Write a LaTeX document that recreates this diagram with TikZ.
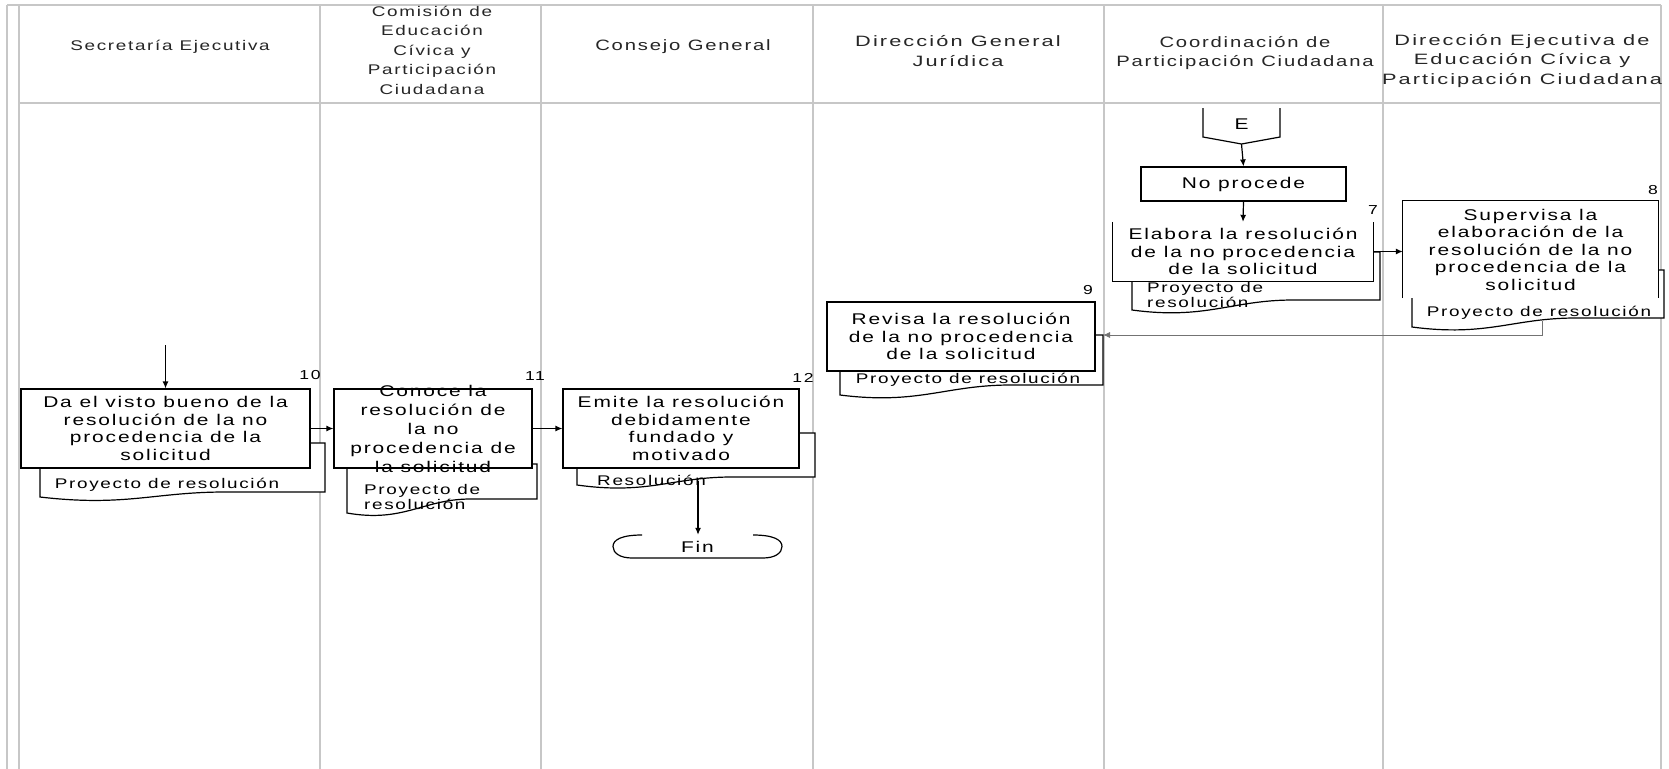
\documentclass[tikz,border=0pt]{standalone}
\usepackage{fontspec}
\setmainfont{Liberation Sans}[FakeStretch=1.35,LetterSpace=12]
\newfontfamily\widefam{Liberation Sans}[FakeStretch=1.45,LetterSpace=14]
\usetikzlibrary{arrows.meta}
\newcommand\bxfont{\fontsize{15.5bp}{17.5bp}\selectfont}
\newcommand\hdfont{\fontsize{15bp}{19.5bp}\selectfont}
\newcommand\hdsfont{\fontsize{14bp}{19.5bp}\selectfont}
\newcommand\dcfont{\fontsize{14bp}{15.5bp}\selectfont}
\newcommand\nmfont{\fontsize{13bp}{15bp}\selectfont}
\newcommand\dcshape[5]{%
  \draw[dc] (#1,#3) -- (#1,#4) .. controls ({#1+0.3*(#2-#1)},{#4+10}) and ({#1+0.4*(#2-#1)},#5) .. ({#1+0.65*(#2-#1)},#5) -- (#2,#5) -- (#2,#3) -- cycle;}
\begin{document}
\begin{tikzpicture}[x=1bp,y=-1bp,
 lane/.style={draw=black!22,line width=1.8bp},
 bx/.style={draw,line width=1.2bp,fill=white,inner sep=0pt,align=center,font=\bxfont},
 bxo/.style={fill=white,inner sep=0pt,align=center,font=\bxfont},
 dc/.style={draw,line width=1.2bp,fill=white},
 dtxt/.style={font=\dcfont,inner sep=0pt},
 nm/.style={font=\nmfont,inner sep=0pt},
 hd/.style={font=\hdfont,align=center,inner sep=0pt,text=black!85},
 ar/.style={-{Latex[length=7bp,width=6bp]},line width=1.2bp},
 ln/.style={line width=1.2bp}]
\fill[white] (0,0) rectangle (1669,769);
\useasboundingbox (0,0) rectangle (1669,769);
% lanes
\foreach \x in {7,19,320,541,813,1104,1383,1661} \draw[lane] (\x,5) -- (\x,769);
\draw[lane] (7,5) -- (1661,5);
\draw[lane] (19,103) -- (1661,103);
% headers
\node[hd,font=\hdsfont] (h1) at (170,47) {Secretaría Ejecutiva};
\node[hd,font=\hdsfont] (h2) at (432,50) {Comisión de\\Educación\\Cívica y\\Participación\\Ciudadana};
\node[hd] (h3) at (683,47) {Consejo General};
\node[hd,font=\widefam\hdfont] (h4) at (958,51) {Dirección General\\Jurídica};
\node[hd] (h5) at (1245,53) {Coordinación de\\Participación Ciudadana};
\node[hd,font=\widefam\hdfont] (h6) at (1522,61) {Dirección Ejecutiva de\\Educación Cívica y\\Participación Ciudadana};
% documents
\dcshape{40}{325}{443}{497}{492}
\dcshape{347}{537}{464}{513}{499}
\dcshape{577}{815}{433}{485}{477}
\dcshape{840}{1103}{335}{395}{385}
\dcshape{1132}{1380}{252}{310}{300}
\dcshape{1412}{1664}{270}{327}{318}
% boxes
\node[bx,minimum width=289bp,minimum height=79bp] (b10) at (165.5,428.5) {Da el visto bueno de la\\resolución de la no\\procedencia de la\\solicitud};
\node[bx,minimum width=198bp,minimum height=79bp] (b11) at (433,428.5) {};
\node[font=\fontsize{15.5bp}{19bp}\selectfont,align=center,inner sep=0pt] (t11) at (b11.center) {Conoce la\\resolución de\\la no\\procedencia de\\la solicitud};
\node[bx,minimum width=236bp,minimum height=79bp] (b12) at (681,428.5) {Emite la resolución\\debidamente\\fundado y\\motivado};
\node[bx,minimum width=268bp,minimum height=69bp] (b9) at (961,336.5) {Revisa la resolución\\de la no procedencia\\de la solicitud};
\node[bx,minimum width=205bp,minimum height=34bp] (np) at (1243.5,184) {No procede};
\node[bxo,minimum width=260bp,minimum height=59bp] (b7) at (1243,251.5) {Elabora la resolución\\de la no procedencia\\de la solicitud};
\draw[ln] (b7.north west) -- (b7.south west) -- (b7.south east) -- (b7.north east);
\node[bxo,minimum width=255bp,minimum height=97bp] (b8) at (1530.5,249.5) {Supervisa la\\elaboración de la\\resolución de la no\\procedencia de la\\solicitud};
\draw[ln] (b8.south west) -- (b8.north west) -- (b8.north east) -- (b8.south east);
% terminator Fin (top edge open in the middle)
\node[minimum width=169bp,minimum height=23bp,inner sep=0pt,font=\bxfont] (fin) at (697.5,546.5) {Fin};
\draw[ln] (642,535) .. controls (621,535) and (613,540) .. (613,546.5) .. controls (613,553) and (620,558) .. (632,558) -- (763,558) .. controls (775,558) and (782,553) .. (782,546.5) .. controls (782,540) and (774,535) .. (753,535);
% off-page connector E
\node[font=\bxfont,inner sep=0pt] (E) at (1241.5,124) {E};
\draw[ln] (1203,108) -- (1203,137) -- (1241.5,144) -- (1280,137) -- (1280,108);
\coordinate (ebot) at (1241.5,144);
% document texts
\node[dtxt] (t10) at (167,485) {Proyecto de resolución};
\node[dtxt,align=left,anchor=west] (t11d) at (364,497) {Proyecto de\\resolución};
\node[dtxt,anchor=west] (t12d) at (597,480) {Resolución};
\node[dtxt] (t9d) at (968,380) {Proyecto de resolución};
\node[dtxt,align=left,anchor=west] (t7d) at (1147,295) {Proyecto de\\resolución};
\node[dtxt] (t8d) at (1539,313) {Proyecto de resolución};
% numbers
\node[nm] (n10) at (310,375) {10};
\node[nm] (n11) at (535,376) {11};
\node[nm] (n12) at (803,378) {12};
\node[nm] (n9) at (1088,290) {9};
\node[nm] (n7) at (1373,210) {7};
\node[nm] (n8) at (1653,190) {8};
% connectors
\coordinate (s10) at (165.5,345);
\draw[ar] (s10) -- (b10.north);
\draw[ar] (b10.east) -- (b11.west);
\draw[ar] (b11.east) -- (b12.west);
\coordinate (d12o) at (698,481);
\draw[ar] (d12o) -- (d12o |- fin.north);
\draw[ar] (ebot) -- (np.north);
\draw[ar] (np.south) -- (b7.north);
\draw[ar] (b7.east) -- (b7.east -| b8.west);
\coordinate (d8o) at (1542,321);
\coordinate (d9i) at (1103,335);
\draw[ar,line width=0.8bp,draw=black!55] (d8o) |- (d9i);
\end{tikzpicture}
\end{document}
